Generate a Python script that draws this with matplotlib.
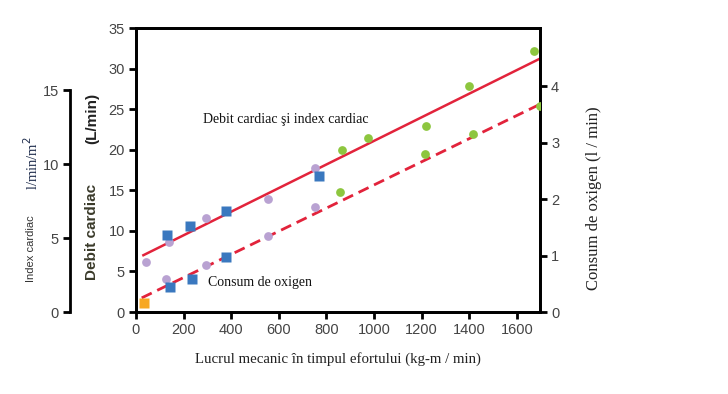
import matplotlib
matplotlib.use("Agg")
import matplotlib.pyplot as plt

# ---- data ----
# cardiac output points (L/min, left axis)
blue_x = [132, 227, 377, 770]
blue_y = [9.5, 10.6, 12.4, 16.7]
purple_x = [41, 140, 294, 556, 750]
purple_y = [6.2, 8.6, 11.6, 13.9, 17.7]
green_x = [864, 975, 1220, 1400, 1670]
green_y = [20.0, 21.4, 22.9, 27.8, 32.2]

# oxygen consumption points (l/min, right axis)
o2_blue_x = [143, 237, 377]
o2_blue_y = [0.45, 0.59, 0.98]
o2_purple_x = [126, 294, 556, 750]
o2_purple_y = [0.58, 0.83, 1.35, 1.87]
o2_green_x = [857, 1215, 1415, 1698]
o2_green_y = [2.12, 2.81, 3.15, 3.65]
o2_orange_x = [35]
o2_orange_y = [0.165]

# regression lines
co_line_x = [31, 1695]
co_line_y = [7.0, 31.2]
o2_line_x = [24, 1695]
o2_line_y = [0.25, 3.68]

x_ticks = [0, 200, 400, 600, 800, 1000, 1200, 1400, 1600]
left_ticks = [0, 5, 10, 15, 20, 25, 30, 35]
right_ticks = [0, 1, 2, 3, 4]
index_ticks = [0, 5, 10, 15]

RED = "#e2233b"
BLUE = "#3a78bf"
PURPLE = "#b9a2d2"
GREEN = "#8dc63f"
ORANGE = "#f7a823"
TICKC = "#444444"
TFS = 10.5

W, H = 728, 394
fig = plt.figure(figsize=(W / 100, H / 100), dpi=100)
fig.patch.set_facecolor("white")

L, R, T, B = 136, 540, 28, 312
pos = [L / W, (H - B) / H, (R - L) / W, (B - T) / H]
ax = fig.add_axes(pos)
ax.set_xlim(0, 1697)
ax.set_ylim(0, 35)
ax2 = ax.twinx()
ax2.set_ylim(0, 35 / 6.95)

for a in (ax, ax2):
    for s in a.spines.values():
        s.set_linewidth(2)
        s.set_color("black")

ax.set_xticks(x_ticks)
ax.set_yticks(left_ticks)
ax2.set_yticks(right_ticks)
ax.tick_params(axis="both", direction="out", length=5, width=2, labelsize=TFS,
               labelcolor=TICKC, pad=3)
ax2.tick_params(axis="y", direction="out", length=5, width=2, labelsize=TFS,
                labelcolor=TICKC, pad=3)
for lab in ax.get_xticklabels() + ax.get_yticklabels() + ax2.get_yticklabels():
    lab.set_family("Liberation Sans")

# lines
ax.plot(co_line_x, co_line_y, color=RED, lw=1.8, zorder=2)
ax2.plot(o2_line_x, o2_line_y, color=RED, lw=2.0, dashes=(4, 2.2), zorder=2)

# points
ms_c, ms_s = 6.3, 6.8
ax.plot(purple_x, purple_y, "o", color=PURPLE, ms=ms_c, mec="none", zorder=3)
ax.plot(green_x, green_y, "o", color=GREEN, ms=ms_c, mec="none", zorder=3)
ax.plot(blue_x, blue_y, "s", color=BLUE, ms=ms_s, mec="none", zorder=3)
ax2.plot(o2_purple_x, o2_purple_y, "o", color=PURPLE, ms=ms_c, mec="none", zorder=3)
ax2.plot(o2_green_x, o2_green_y, "o", color=GREEN, ms=ms_c, mec="none", zorder=3)
ax2.plot(o2_blue_x, o2_blue_y, "s", color=BLUE, ms=ms_s, mec="none", zorder=3)
ax2.plot(o2_orange_x, o2_orange_y, "s", color=ORANGE, ms=ms_s, mec="none", zorder=3)

serif = "Liberation Serif"
ax.text(281, 23.7, "Debit cardiac şi index cardiac", family=serif, fontsize=10,
        ha="left", va="center", color="#111111")
ax.text(302, 3.6, "Consum de oxigen", family=serif, fontsize=10,
        ha="left", va="center", color="#111111")

ax.set_xlabel("Lucrul mecanic în timpul efortului (kg-m / min)", family=serif,
              fontsize=10.7, color="#222222", labelpad=11)
fig.text(594 / W, 1 - 198 / H, "Consum de oxigen (l / min)", family=serif,
         fontsize=12, rotation=90, ha="center", va="center", color="#222222")

# cardiac index axis
ax3 = fig.add_axes([70 / W, (H - B) / H, 0.01, (B - T) / H])
ax3.patch.set_alpha(0)
ax3.set_ylim(0, 19.2)
for k in ("top", "right", "bottom"):
    ax3.spines[k].set_visible(False)
ax3.spines["left"].set_linewidth(2)
ax3.spines["left"].set_bounds(0, 15)
ax3.set_xticks([])
ax3.set_yticks(index_ticks)
ax3.tick_params(axis="y", direction="out", length=5, width=2, labelsize=TFS,
                labelcolor=TICKC, pad=3)
for lab in ax3.get_yticklabels():
    lab.set_family("Liberation Sans")

# left-side rotated labels
fig.text(32 / W, 1 - 163 / H, "l/min/m$^2$", family=serif, fontsize=10.5,
         rotation=90, ha="center", va="center", color="#1c2a4a")
fig.text(31 / W, 1 - 249 / H, "Index cardiac", family="Liberation Sans", fontsize=8,
         rotation=90, ha="center", va="center", color="#333333")
fig.text(92 / W, 1 - 118 / H, "(L/min)", family="Liberation Sans", fontsize=11,
         fontweight="bold", rotation=90, ha="center", va="center", color="#222222")
fig.text(92 / W, 1 - 232 / H, "Debit cardiac", family="Liberation Sans", fontsize=11,
         fontweight="bold", rotation=90, ha="center", va="center", color="#3a3a2a")

fig.savefig("out.png", dpi=100, facecolor="white")
